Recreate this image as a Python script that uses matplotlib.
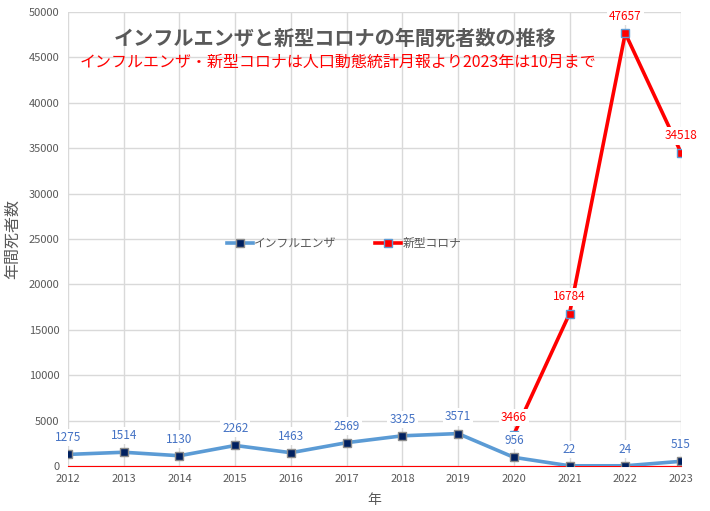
import matplotlib
matplotlib.use("Agg")
import matplotlib.pyplot as plt

plt.rcParams['font.family'] = ['Noto Sans CJK JP', 'DejaVu Sans']

years = [2012, 2013, 2014, 2015, 2016, 2017, 2018, 2019, 2020, 2021, 2022, 2023]
flu = [1275, 1514, 1130, 2262, 1463, 2569, 3325, 3571, 956, 22, 24, 515]
corona_years = [2020, 2021, 2022, 2023]
corona = [3466, 16784, 47657, 34518]
yticks = list(range(0, 50001, 5000))

title = 'インフルエンザと新型コロナの年間死者数の推移'
subtitle = 'インフルエンザ・新型コロナは人口動態統計月報より2023年は10月まで'

W, H = 710, 511
fig = plt.figure(figsize=(W / 100, H / 100), dpi=100)
ax = fig.add_axes([68 / W, (H - 466) / H, (681 - 68) / W, (466 - 12) / H])

grey = '#595959'
ax.plot(years, flu, color='#5B9BD5', lw=2.6, marker='s', ms=5.5,
        mfc='#002060', mec='#8C8C8C', mew=1, label='インフルエンザ', zorder=3)
ax.plot(corona_years, corona, color='#FF0000', lw=2.6, marker='s', ms=5.5,
        mfc='#FF0000', mec='#5B9BD5', mew=1, label='新型コロナ', zorder=3)

box = dict(facecolor='white', edgecolor='none', pad=1.5)
for x, v in zip(years, flu):
    ax.annotate(str(v), (x, v), xytext=(0, 12), textcoords='offset points',
                ha='center', va='center', fontsize=8.5, color='#4472C4',
                bbox=box, zorder=4)
for x, v in zip(corona_years, corona):
    ax.annotate(str(v), (x, v), xytext=(0, 12), textcoords='offset points',
                ha='center', va='center', fontsize=8.5, color='#FF0000',
                bbox=box, zorder=4)

ax.set_xlim(2012, 2023)
ax.set_ylim(0, 50000)
ax.set_xticks(years)
ax.set_yticks(yticks)
ax.grid(True, color='#D9D9D9', lw=1)
ax.set_axisbelow(True)
for s in ['top', 'right', 'left']:
    ax.spines[s].set_visible(False)
ax.spines['bottom'].set_color('#FF0000')
ax.tick_params(length=0, labelsize=8, colors=grey, pad=6)

ax.set_xlabel('年', fontsize=10, color=grey, labelpad=6)
ax.set_ylabel('年間死者数', fontsize=11.5, color=grey, labelpad=6)

fig.text(335 / W, 1 - 38 / H, title, ha='center', va='center',
         fontsize=14.5, fontweight='bold', color=grey)
fig.text(80 / W, 1 - 62 / H, subtitle, ha='left', va='center',
         fontsize=11.5, color='#FF0000')

ax.legend(loc='center', bbox_to_anchor=(0.45, 0.49), ncol=2, frameon=False,
          fontsize=8.5, labelcolor=grey, columnspacing=3.3, handlelength=2.2,
          handletextpad=0.1)

fig.savefig('out.png', dpi=100)
